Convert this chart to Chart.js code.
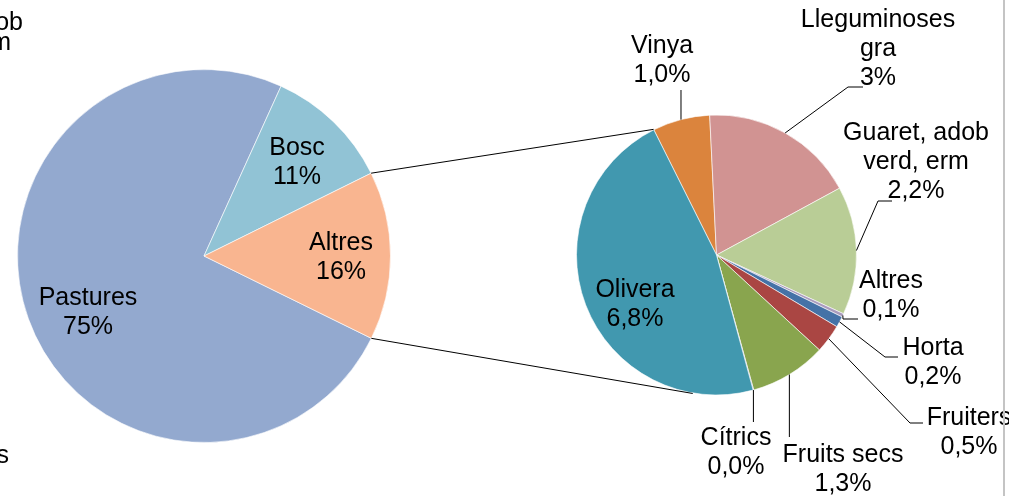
<!DOCTYPE html>
<html>
<head>
<meta charset="utf-8">
<script src="https://cdn.jsdelivr.net/npm/chart.js@4"></script>
<style>
    html, body { margin: 0; padding: 0; background: #fff; }
    #wrap { position: relative; width: 1009px; height: 496px; overflow: hidden; background: #fff; }
    #wrap canvas { position: absolute; left: 0; top: 0; }
</style>
</head>
<body>
<div id="wrap">
    <canvas id="chartMain" width="1009" height="496"></canvas>
    <canvas id="chartDetail" width="1009" height="496"></canvas>
</div>
<script>
// main pie
const mainLabels = ['Pastures', 'Bosc', 'Altres'];
const mainValues = [74.5, 10.9, 14.6];
const mainPct = ['75%', '11%', '16%'];

// detail pie (breakdown of "Altres")
const detailLabels = ['Vinya', 'Lleguminoses\ngra', 'Guaret, adob\nverd, erm', 'Altres', 'Horta', 'Fruiters', 'Fruits secs', 'Cítrics', 'Olivera'];
const detailValues = [1.0, 2.7, 2.24, 0.06, 0.19, 0.5, 1.34, 0.01, 7.08];
const detailPct = ['1,0%', '3%', '2,2%', '0,1%', '0,2%', '0,5%', '1,3%', '0,0%', '6,8%'];

const mainColors = ['#93A9CF', '#91C3D5', '#F9B590'];
const detailColors = ['#DB843D', '#D19392', '#B9CD96', '#A99BBD', '#4572A7', '#AA4643', '#89A54E', '#71588F', '#4198AF'];

const FONT = "25px 'Liberation Sans', Arial, sans-serif";
const LINE_H = 29;

// label anchors: [center x, first baseline]
const mainLabelPos = [[88, 305], [297, 155], [341, 250]];
const detailLabelPos = [[662, 53], [878, 27], [916, 140], [891, 288], [933, 355], [969, 425], [843, 462], [736, 445], [635, 297]];
// leader lines, starting at slice edge (null x = keep edge x)
const detailLeaders = [
    [[null, 90]],
    [[848, 87], [863, 87]],
    [[878, 201], [892, 201]],
    [[843, 319], [858, 319]],
    [[885, 357], [898, 357]],
    [[910, 423], [923, 423]],
    [[null, 437]],
    [[null, 422]],
    null
];

let chartMainInstance = null;
let chartDetailInstance = null;

function drawLabel(ctx, text, x, y) {
    text.split('\n').forEach((line, i) => {
        ctx.fillText(line, x, y + i * LINE_H);
    });
}

const mainLabelPlugin = {
    id: 'mainLabels',
    afterDatasetsDraw(chart) {
        const ctx = chart.ctx;
        ctx.save();
        ctx.font = FONT;
        ctx.fillStyle = '#000';
        ctx.textAlign = 'center';
        ctx.textBaseline = 'alphabetic';
        mainLabels.forEach((lab, i) => {
            const p = mainLabelPos[i];
            drawLabel(ctx, lab + '\n' + mainPct[i], p[0], p[1]);
        });
        ctx.restore();
    }
};

const detailLabelPlugin = {
    id: 'detailLabels',
    afterDatasetsDraw(chart) {
        const ctx = chart.ctx;
        const arcs = chart.getDatasetMeta(0).data;
        ctx.save();
        ctx.strokeStyle = '#000';
        ctx.lineWidth = 1;

        // leader lines
        arcs.forEach((arc, i) => {
            const lead = detailLeaders[i];
            if (!lead) return;
            const mid = (arc.startAngle + arc.endAngle) / 2;
            const ex = arc.x + arc.outerRadius * Math.cos(mid);
            const ey = arc.y + arc.outerRadius * Math.sin(mid);
            ctx.beginPath();
            ctx.moveTo(ex, ey);
            lead.forEach(pt => ctx.lineTo(pt[0] === null ? ex : pt[0], pt[1]));
            ctx.stroke();
        });

        // connector lines from the "Altres" slice of the main pie
        if (chartMainInstance) {
            const src = chartMainInstance.getDatasetMeta(0).data[2];
            const r = arcs[0].outerRadius + 0.5;
            const cx = arcs[0].x, cy = arcs[0].y;
            const p1 = [src.x + src.outerRadius * Math.cos(src.startAngle), src.y + src.outerRadius * Math.sin(src.startAngle)];
            const p2 = [src.x + src.outerRadius * Math.cos(src.endAngle), src.y + src.outerRadius * Math.sin(src.endAngle)];
            const a0 = arcs[0].startAngle;
            ctx.beginPath();
            ctx.moveTo(p1[0], p1[1]);
            ctx.lineTo(cx + r * Math.cos(a0), cy + r * Math.sin(a0));
            // lower line is tangent to the detail pie
            const d = Math.hypot(p2[0] - cx, p2[1] - cy);
            const th = Math.atan2(p2[1] - cy, p2[0] - cx) - Math.acos(r / d);
            ctx.moveTo(p2[0], p2[1]);
            ctx.lineTo(cx + r * Math.cos(th), cy + r * Math.sin(th));
            ctx.stroke();
        }

        ctx.font = FONT;
        ctx.fillStyle = '#000';
        ctx.textAlign = 'center';
        ctx.textBaseline = 'alphabetic';
        detailLabels.forEach((lab, i) => {
            const p = detailLabelPos[i];
            drawLabel(ctx, lab + '\n' + detailPct[i], p[0], p[1]);
        });

        // cut-off text from the neighbouring chart
        ctx.textAlign = 'right';
        ctx.fillText('adob', 23, 30);
        ctx.fillText('erm', 11, 50);
        ctx.fillText('s', 9, 463);

        // frame edge on the right
        ctx.fillStyle = '#c4c4c4';
        ctx.fillRect(1003, 0, 2, 496);
        ctx.restore();
    }
};

function pieOptions(rotation, padding) {
    return {
        responsive: false,
        animation: false,
        rotation: rotation,
        layout: { padding: padding },
        plugins: {
            legend: { display: false },
            tooltip: { enabled: false }
        }
    };
}

chartMainInstance = new Chart(document.getElementById('chartMain').getContext('2d'), {
    type: 'pie',
    data: {
        labels: mainLabels,
        datasets: [{
            data: mainValues,
            backgroundColor: mainColors,
            borderColor: 'rgba(255,255,255,0.6)',
            borderWidth: 1
        }]
    },
    options: pieOptions(116.2, { left: 17, right: 618, top: 69, bottom: 53 }),
    plugins: [mainLabelPlugin]
});

chartDetailInstance = new Chart(document.getElementById('chartDetail').getContext('2d'), {
    type: 'pie',
    data: {
        labels: detailLabels,
        datasets: [{
            data: detailValues,
            backgroundColor: detailColors,
            borderColor: 'rgba(255,255,255,0.6)',
            borderWidth: 1
        }]
    },
    options: pieOptions(-26.6, { left: 576, right: 152, top: 114.5, bottom: 100.5 }),
    plugins: [detailLabelPlugin]
});
</script>
</body>
</html>
